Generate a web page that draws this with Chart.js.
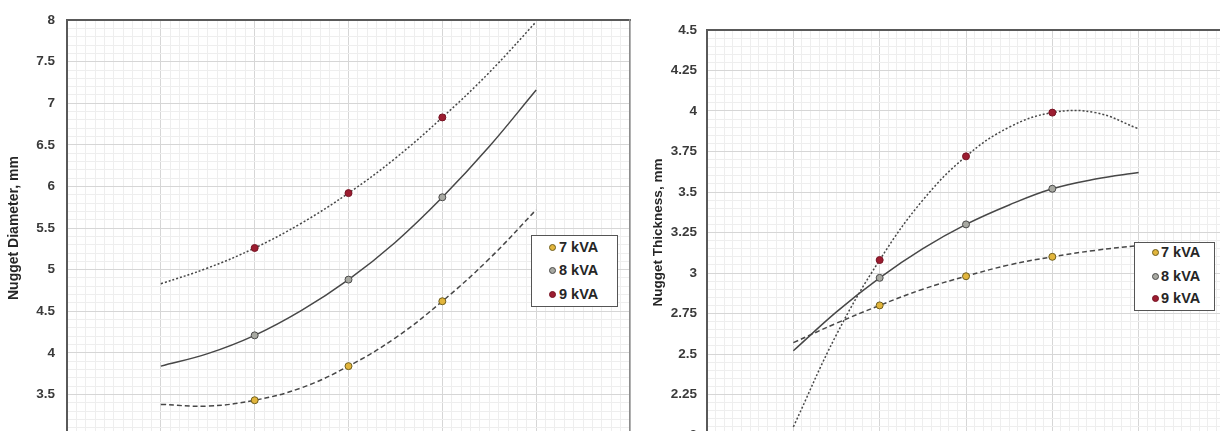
<!DOCTYPE html>
<html>
<head>
<meta charset="utf-8">
<script src="https://cdn.jsdelivr.net/npm/chart.js@4.4.1/dist/chart.umd.min.js"></script>
<style>
    html, body {
        margin: 0;
        padding: 0;
        background: #fff;
        width: 1220px;
        height: 431px;
        overflow: hidden;
    }
    .chart-box {
        position: absolute;
        top: 0;
    }
    #boxDiametro { left: 0; }
    #boxEspesor { left: 640px; }
    .legend {
        position: absolute;
        background: #fff;
        border: 1.5px solid #555;
        box-sizing: border-box;
        font: bold 14.5px Arial, "Liberation Sans", sans-serif;
        color: #262626;
    }
    #leyendaDiametro { left: 531px; top: 235px; width: 87px; height: 72px; }
    #leyendaEspesor { left: 1134px; top: 242px; width: 81px; height: 69px; }
    .legend-item {
        position: absolute;
        height: 16px;
        line-height: 16px;
        white-space: nowrap;
    }
    .legend-dot {
        position: absolute;
        width: 7px;
        height: 7px;
        border-radius: 50%;
        box-sizing: border-box;
        border: 1px solid;
    }
</style>
</head>
<body>
<div class="chart-box" id="boxDiametro"><canvas id="chartDiametro" width="640" height="460"></canvas></div>
<div class="chart-box" id="boxEspesor"><canvas id="chartEspesor" width="590" height="460"></canvas></div>
<div class="legend" id="leyendaDiametro"></div>
<div class="legend" id="leyendaEspesor"></div>

<script>
const SERIES = ['7 kVA', '8 kVA', '9 kVA'];
const PUNTOS_X = [2, 3, 4];
const TENDENCIA_X = [1, 1.5, 2, 2.5, 3, 3.5, 4, 4.5, 5];

// Nugget Diameter, mm
const diametro7 = [3.43, 3.84, 4.62];
const diametro8 = [4.21, 4.88, 5.87];
const diametro9 = [5.26, 5.92, 6.83];
const tendDiametro7 = [3.38, 3.36, 3.43, 3.58, 3.84, 4.18, 4.62, 5.13, 5.72];
const tendDiametro8 = [3.84, 3.99, 4.21, 4.51, 4.88, 5.33, 5.87, 6.48, 7.16];
const tendDiametro9 = [4.83, 5.02, 5.26, 5.56, 5.92, 6.34, 6.83, 7.37, 7.98];

// Nugget Thickness, mm
const espesor7 = [2.80, 2.98, 3.10];
const espesor8 = [2.97, 3.30, 3.52];
const espesor9 = [3.08, 3.72, 3.99];
const tendEspesor7 = [2.57, 2.69, 2.80, 2.90, 2.98, 3.05, 3.10, 3.14, 3.17];
const tendEspesor8 = [2.52, 2.76, 2.97, 3.15, 3.30, 3.42, 3.52, 3.58, 3.62];
const tendEspesor9 = [2.05, 2.62, 3.08, 3.45, 3.72, 3.90, 3.99, 3.99, 3.89];

const GRID_MAYOR = '#d6d6d6';
const GRID_MENOR = '#eeeeee';
const FUENTE = 'Arial, "Liberation Sans", sans-serif';

const estilos = [
    { relleno: '#e2b53c', borde: '#6e5e1e', dash: [5, 3] },
    { relleno: '#a8a9a2', borde: '#4a4a4a', dash: [] },
    { relleno: '#9c1c30', borde: '#761424', dash: [2, 2] }
];

function esMultiplo(valor, paso) {
    const r = valor / paso;
    return Math.abs(r - Math.round(r)) < 1e-6;
}

function crearGrafico(id, cfg) {
    const datasets = [];

    cfg.tendencias.forEach((serie, i) => {
        datasets.push({
            label: SERIES[i] + ' (trend)',
            data: TENDENCIA_X.map((x, j) => ({ x: x, y: serie[j] })),
            showLine: true,
            tension: 0.4,
            pointRadius: 0,
            borderColor: '#474747',
            borderWidth: 1.5,
            borderDash: estilos[i].dash,
            order: 2
        });
    });

    cfg.puntos.forEach((serie, i) => {
        datasets.push({
            label: SERIES[i],
            data: PUNTOS_X.map((x, j) => ({ x: x, y: serie[j] })),
            showLine: false,
            pointRadius: 3.5,
            pointBackgroundColor: estilos[i].relleno,
            pointBorderColor: estilos[i].borde,
            pointBorderWidth: 1,
            order: 1
        });
    });

    return new Chart(document.getElementById(id).getContext('2d'), {
        type: 'scatter',
        data: { datasets: datasets },
        options: {
            responsive: false,
            animation: false,
            layout: { padding: cfg.padding },
            plugins: {
                legend: { display: false },
                tooltip: { enabled: false }
            },
            scales: {
                x: {
                    type: 'linear',
                    min: 0,
                    max: 6,
                    ticks: { display: false, stepSize: 0.1, autoSkip: false },
                    grid: {
                        drawTicks: false,
                        lineWidth: 1,
                        color: (c) => esMultiplo(c.tick.value, 1) ? GRID_MAYOR : GRID_MENOR
                    },
                    border: { display: false },
                    afterFit: (s) => { s.height = 0; }
                },
                xTop: {
                    type: 'linear',
                    position: 'top',
                    min: 0,
                    max: 6,
                    ticks: { display: false },
                    grid: { display: false, drawTicks: false },
                    border: { color: '#595959', width: 2 },
                    afterFit: (s) => { s.height = 0; }
                },
                y: {
                    type: 'linear',
                    min: cfg.yMin,
                    max: cfg.yMax,
                    ticks: {
                        stepSize: cfg.yMenor,
                        autoSkip: false,
                        padding: cfg.tickPad,
                        color: '#3a3a3a',
                        font: { family: FUENTE, size: 13.5, weight: 'bold' },
                        callback: (v) => esMultiplo(v, cfg.yMayor) ? String(Math.round(v * 100) / 100) : ''
                    },
                    grid: {
                        drawTicks: false,
                        lineWidth: 1,
                        color: (c) => esMultiplo(c.tick.value, cfg.yMayor) ? GRID_MAYOR : GRID_MENOR
                    },
                    border: { color: '#595959', width: 2 },
                    title: {
                        display: true,
                        text: cfg.titulo,
                        color: '#262626',
                        font: { family: FUENTE, size: cfg.titleSize, weight: 'bold' },
                        padding: { top: cfg.titlePad, bottom: 0 }
                    },
                    afterFit: (s) => { s.width = 67; }
                },
                yRight: {
                    type: 'linear',
                    position: 'right',
                    min: cfg.yMin,
                    max: cfg.yMax,
                    ticks: { display: false },
                    grid: { display: false, drawTicks: false },
                    border: { color: '#8c8c8c', width: 1.5 },
                    afterFit: (s) => { s.width = 0; }
                }
            }
        }
    });
}

function crearLeyenda(id, pos) {
    const caja = document.getElementById(id);
    SERIES.forEach((nombre, i) => {
        const dot = document.createElement('div');
        dot.className = 'legend-dot';
        dot.style.left = (pos.punto - 3.5) + 'px';
        dot.style.top = (pos.filas[i] - 3.5) + 'px';
        dot.style.background = estilos[i].relleno;
        dot.style.borderColor = estilos[i].borde;
        caja.appendChild(dot);

        const item = document.createElement('div');
        item.className = 'legend-item';
        item.style.left = pos.texto + 'px';
        item.style.top = (pos.filas[i] - 8) + 'px';
        item.textContent = nombre;
        caja.appendChild(item);
    });
}

crearGrafico('chartDiametro', {
    titulo: 'Nugget Diameter, mm',
    titleSize: 14,
    yMin: 3, yMax: 8, yMayor: 0.5, yMenor: 0.1,
    tickPad: 12, titlePad: 6,
    padding: { top: 16, right: 10, bottom: 24, left: 0 },
    tendencias: [tendDiametro7, tendDiametro8, tendDiametro9],
    puntos: [diametro7, diametro8, diametro9]
});

crearGrafico('chartEspesor', {
    titulo: 'Nugget Thickness, mm',
    titleSize: 13.5,
    yMin: 2, yMax: 4.5, yMayor: 0.25, yMenor: 0.05,
    tickPad: 10, titlePad: 10,
    padding: { top: 30, right: 4, bottom: 25, left: 0 },
    tendencias: [tendEspesor7, tendEspesor8, tendEspesor9],
    puntos: [espesor7, espesor8, espesor9]
});

crearLeyenda('leyendaDiametro', { punto: 20, texto: 27, filas: [11, 34, 58] });
crearLeyenda('leyendaEspesor', { punto: 20, texto: 26, filas: [9, 33, 55] });
</script>
</body>
</html>
